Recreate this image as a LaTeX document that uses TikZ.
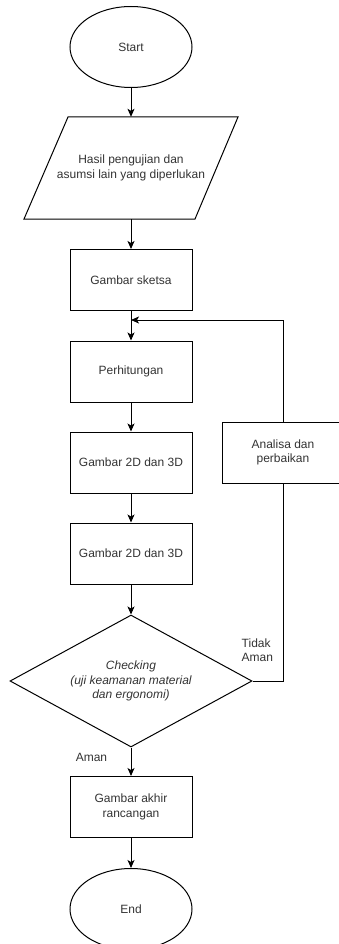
\documentclass[tikz,border=0pt]{standalone}
\usepackage{fontspec}
\setmainfont{Liberation Sans}
\usetikzlibrary{shapes.geometric,arrows.meta}
\definecolor{txt}{HTML}{333333}
\begin{document}
\begin{tikzpicture}[x=1pt,y=-1pt,
  every node/.style={font=\fontsize{12}{14.5}\selectfont, text=txt},
  term/.style={draw=black, line width=1pt, ellipse, minimum width=122pt, minimum height=81pt, inner sep=0pt},
  proc/.style={draw=black, line width=1pt, rectangle, minimum width=122pt, minimum height=61pt, inner sep=0pt, align=center},
  dec/.style={draw=black, line width=1pt, diamond, minimum width=242pt, minimum height=132pt, inner sep=0pt, align=center, aspect=1.83},
  io/.style={minimum width=126pt, minimum height=102pt, inner sep=0pt, align=center},
  lbl/.style={inner sep=0pt, align=left},
  flow/.style={draw=black, line width=1pt, -{Stealth[length=8pt,width=7pt,inset=2pt]}},
  line/.style={draw=black, line width=1pt}]
\useasboundingbox (0,0) rectangle (338,944);

\node[term] (start) at (131,47) {Start};
\node[io] (hasil) at (131,168) {Hasil pengujian dan\\asumsi lain yang diperlukan};
\draw[line] (68,117) -- (238,117) -- (195,219) -- (24,219) -- cycle;
\node[proc] (sketsa) at (131,280) {Gambar sketsa};
\node[proc] (hitung) at (131,371.5) {Perhitungan};
\node[proc] (g2a) at (131,462.5) {Gambar 2D dan 3D};
\node[proc] (g2b) at (131,553.5) {Gambar 2D dan 3D};
\node[dec] (chk) at (131,681) {\itshape Checking\\\itshape (uji keamanan material\\\itshape dan ergonomi)};
\node[proc] (akhir) at (131,807) {Gambar akhir\\rancangan};
\node[term] (end) at (131,909) {End};
\node[proc] (analisa) at (283,452.5) {Analisa dan\\perbaikan};
\coordinate (join) at (131,320);

\node[lbl, anchor=west] (tidak) at (241.5,650) {Tidak\\Aman};
\node[lbl] (aman) at (91.5,757) {Aman};

\draw[flow] (start) -- (hasil.north);
\draw[flow] (hasil.south) -- (sketsa);
\draw[flow] (sketsa) -- (hitung);
\draw[flow] (hitung) -- (g2a);
\draw[flow] (g2a) -- (g2b);
\draw[flow] (g2b) -- (chk);
\draw[flow] (chk) -- (akhir);
\draw[flow] (akhir) -- (end);
\draw[line] (chk.east) -| (analisa.south);
\draw[flow] (analisa.north) |- (join);
\end{tikzpicture}
\end{document}
